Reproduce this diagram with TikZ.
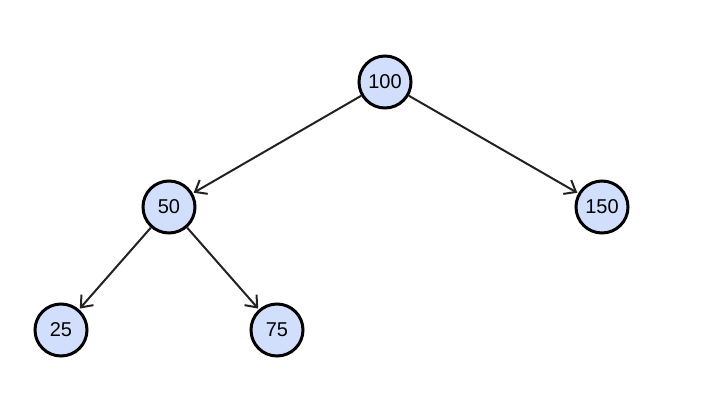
\documentclass[tikz,border=0pt]{standalone}
\usepackage{fontspec}
\setmainfont{Liberation Sans}
\usetikzlibrary{arrows.meta}
\definecolor{nodefill}{HTML}{D2DFFC}
\definecolor{edge}{HTML}{222222}
\tikzset{
  treenode/.style={circle, draw=black, line width=3pt, fill=nodefill, minimum size=52pt, inner sep=0pt, font=\fontsize{20}{22}\selectfont},
  treeedge/.style={draw=edge, line width=2pt, -{Straight Barb[length=10pt,width=16pt,line width=2pt]}, shorten >=1pt}
}
\begin{document}
\begin{tikzpicture}[x=1pt,y=-1pt]
\useasboundingbox (0,0) rectangle (724,420);
\node[treenode] (n100) at (385,82) {100};
\node[treenode] (n50) at (169,207) {50};
\node[treenode] (n150) at (602,207) {150};
\node[treenode] (n25) at (61,330) {25};
\node[treenode] (n75) at (277,330) {75};
\draw[treeedge] (n100) -- (n50);
\draw[treeedge] (n100) -- (n150);
\draw[treeedge] (n50) -- (n25);
\draw[treeedge] (n50) -- (n75);
\end{tikzpicture}
\end{document}
